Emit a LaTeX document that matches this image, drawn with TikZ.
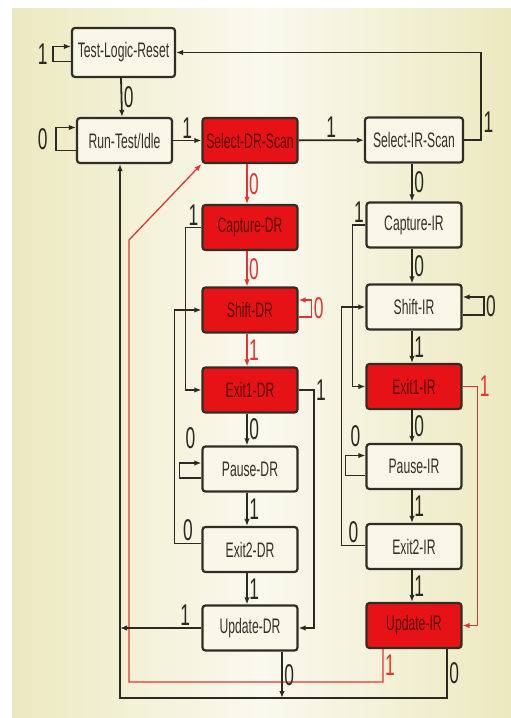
\documentclass[tikz,border=0pt]{standalone}
\usepackage{fontspec}
\setmainfont{Liberation Sans}[FakeStretch=0.58]
\usetikzlibrary{arrows.meta,positioning}
\definecolor{bgside}{RGB}{236,233,192}
\definecolor{bgmid}{RGB}{250,249,238}
\definecolor{boxfill}{RGB}{249,247,232}
\definecolor{boxred}{RGB}{230,18,22}
\definecolor{boxline}{RGB}{48,46,36}
\definecolor{wireblack}{RGB}{42,42,34}
\definecolor{wirered}{RGB}{228,52,52}
\definecolor{txtgrey}{RGB}{50,50,42}
\definecolor{txtred}{RGB}{92,8,8}

\begin{document}
\begin{tikzpicture}[x=1pt, y=-1pt,
  tapbox/.style={draw=boxline, line width=2.2pt, rounded corners=3pt, fill=boxfill, text=txtgrey,
    minimum width=95pt, minimum height=45pt, inner sep=0pt, font=\fontsize{21}{23}\selectfont},
  taphot/.style={tapbox, fill=boxred, text=txtred},
  link/.style={draw=wireblack, line width=1.8pt, -{Latex[length=7pt,width=5.5pt]}},
  hotlink/.style={link, draw=wirered, line width=1.3pt},
  lbl/.style={font=\fontsize{30}{31}\selectfont, text=wireblack, inner sep=1.5pt},
  hotlbl/.style={lbl, text=wirered}]
\useasboundingbox (0,0) rectangle (511,718);
\shade[left color=bgside, right color=bgside, middle color=bgmid] (12,8) rectangle (511,718);

\node[tapbox, minimum width=103pt, minimum height=49pt] (tlr) at (123.5,52.5) {Test-Logic-Reset};
\node[tapbox] (rti) at (124.5,140.5) {Run-Test/Idle};
\node[taphot] (sds) at (250,140.5) {Select-DR-Scan};
\node[tapbox, minimum width=98pt] (sis) at (414,140) {Select-IR-Scan};

\node[taphot] (cdr) at (250,227.5) {Capture-DR};
\node[taphot] (sdr) at (250,310) {Shift-DR};
\node[taphot] (e1dr) at (250,390) {Exit1-DR};
\node[tapbox] (pdr) at (250,469) {Pause-DR};
\node[tapbox] (e2dr) at (250,549.5) {Exit2-DR};
\node[tapbox] (udr) at (250,628) {Update-DR};

\node[tapbox] (cir) at (414,225) {Capture-IR};
\node[tapbox] (sir) at (414,307) {Shift-IR};
\node[taphot] (e1ir) at (414,386.5) {Exit1-IR};
\node[tapbox] (pir) at (414,466.5) {Pause-IR};
\node[tapbox] (e2ir) at (414,546.5) {Exit2-IR};
\node[taphot] (uir) at (414,625.5) {Update-IR};

\coordinate (bl) at (120,698);
\coordinate (rc) at (129,682);
\coordinate (rk) at (129,240);

\draw[link] ([yshift=-9pt]tlr.west) -- ++(-18,0) |- node[lbl, left, pos=.25, xshift=-3pt] {1} ([yshift=6pt]tlr.west);
\draw[link] ([xshift=-2.5pt]tlr.south) -- node[lbl, right] {0} ([xshift=-2.5pt]rti.north);
\draw[link] ([yshift=-10pt]rti.west) -- ++(-20,0) |- node[lbl, left, pos=.25, xshift=-6pt] {0} ([yshift=13pt]rti.west);
\draw[link] (rti) -- node[lbl, above] {1} (sds);
\draw[link] (sds) -- node[lbl, above] {1} (sis);
\draw[link] (sis.east) -- ++(17,0) |- node[lbl, right, pos=.1] {1} (tlr.east);

\draw[hotlink] ([xshift=-3pt]sds.south) -- node[hotlbl, right] {0} ([xshift=-3pt]cdr.north);
\draw[hotlink] ([xshift=-3pt]cdr.south) -- node[hotlbl, right] {0} ([xshift=-3pt]sdr.north);
\draw[hotlink] ([yshift=-7pt]sdr.east) -- ++(13,0) |- node[hotlbl, right, pos=.25] {0} ([yshift=10pt]sdr.east);
\draw[hotlink] ([xshift=-3pt]sdr.south) -- node[hotlbl, right] {1} ([xshift=-3pt]e1dr.north);
\draw[link] (cdr.west) -- node[lbl, above] {1} ++(-16,0) |- (e1dr.west);
\draw[link] ([xshift=-3pt]e1dr.south) -- node[lbl, right] {0} ([xshift=-3pt]pdr.north);
\draw[link] (e1dr.east) -- node[lbl, right, pos=1] {1} ++(15,0) |- (udr.east);
\draw[link] ([yshift=-9pt]pdr.west) -- ++(-22,0) |- node[lbl, above=12pt, pos=.75] {0} ([yshift=6pt]pdr.west);
\draw[link] ([xshift=-3pt]pdr.south) -- node[lbl, right] {1} ([xshift=-3pt]e2dr.north);
\draw[link] ([yshift=6pt]e2dr.west) -- node[lbl, above] {0} ++(-27,0) |- (sdr.west);
\draw[link] ([xshift=-3pt]e2dr.south) -- node[lbl, right] {1} ([xshift=-3pt]udr.north);

\draw[link] ([xshift=-2pt]sis.south) -- node[lbl, right] {0} ([xshift=-2pt]cir.north);
\draw[link] ([xshift=-2pt]cir.south) -- node[lbl, right] {0} ([xshift=-2pt]sir.north);
\draw[link] ([yshift=-8pt]sir.east) -- ++(21,0) |- node[lbl, right, pos=.25] {0} ([yshift=10pt]sir.east);
\draw[link] ([xshift=-2pt]sir.south) -- node[lbl, right] {1} ([xshift=-2pt]e1ir.north);
\draw[link] (cir.west) -- node[lbl, above] {1} ++(-13,0) |- (e1ir.west);
\draw[link] ([xshift=-2pt]e1ir.south) -- node[lbl, right] {0} ([xshift=-2pt]pir.north);
\draw[hotlink] (e1ir.east) -- node[hotlbl, right, pos=1] {1} ++(15,0) |- (uir.east);
\draw[link] ([yshift=-9pt]pir.west) -- ++(-20,0) |- node[lbl, above=6pt, pos=.75] {0} ([yshift=11pt]pir.west);
\draw[link] ([xshift=-2pt]pir.south) -- node[lbl, right] {1} ([xshift=-2pt]e2ir.north);
\draw[link] ([yshift=1pt]e2ir.west) -- node[lbl, above] {0} ++(-24,0) |- (sir.west);
\draw[link] ([xshift=-2pt]e2ir.south) -- node[lbl, right] {1} ([xshift=-2pt]uir.north);

\draw[hotlink] ([xshift=-31pt]uir.south) |- node[hotlbl, right, pos=.25] {1} (rc) -- (rk) -- (sds.south west);
\draw[link] ([xshift=33pt]uir.south) |- node[lbl, right, pos=.25] {0} (bl) -- ([xshift=-4.5pt]rti.south);
\draw[link] (udr.west) -- node[lbl, above, pos=.2] {1} (udr.west -| bl);
\draw[link] ([xshift=32pt]udr.south) -- node[lbl, right] {0} ([xshift=32pt]udr.south |- bl);
\end{tikzpicture}
\end{document}
